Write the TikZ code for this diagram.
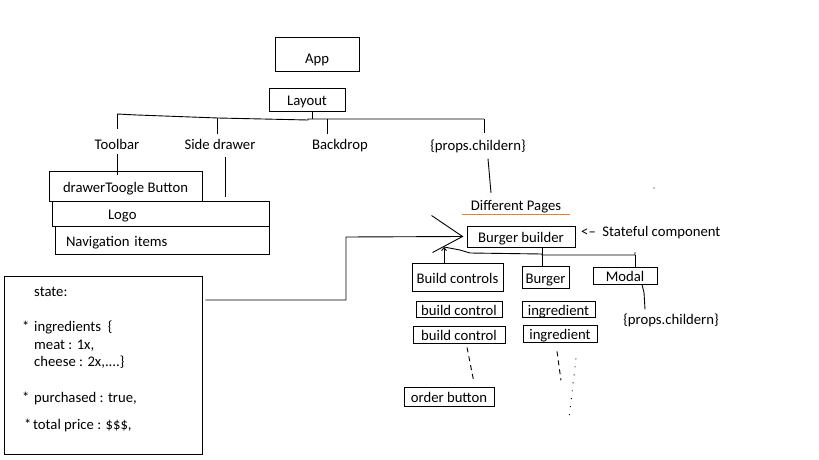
\documentclass[tikz,border=0pt]{standalone}
\usepackage{fontspec}
\setmainfont{Carlito}
\usetikzlibrary{arrows.meta}
\definecolor{penorange}{RGB}{237,125,49}

\begin{document}
\begin{tikzpicture}[
      x=1pt, y=-1pt,
      font=\fontsize{14.7}{17.5}\selectfont,
      txt/.style={inner sep=1pt, text height=12pt, text depth=0pt},
      bx/.style={txt, draw=black, line width=0.9pt},
      wire/.style={line width=0.9pt},
      dashwire/.style={wire, dash pattern=on 5pt off 4pt},
      dotwire/.style={wire, dash pattern=on 1pt off 7pt},
      tipline/.style={wire, -{Straight Barb[length=3pt, width=5pt]}}
    ]
    \useasboundingbox[fill=white] (0,0) rectangle (819,460);

    % top of the tree
    \node[bx, minimum width=84pt, minimum height=34pt] (app) at (317,54) {\raisebox{-3pt}{App}};
    \node[bx, minimum width=76pt, minimum height=23pt] (layout) at (307,99.5) {Layout};
    \node[txt] (toolbar)    at (117,143) {Toolbar};
    \node[txt] (sidedrawer) at (220,143) {Side drawer};
    \node[txt] (backdrop)   at (340,143) {Backdrop};
    \node[txt] (props)      at (478,144) {\{props.childern\}};

    % toolbar part
    \node[bx, minimum width=153pt, minimum height=30pt] (drawerbtn) at (125.5,186) {drawerToogle Button};
    \node[bx, minimum height=25pt, text width=215pt, align=left] (logo) at (160.5,213.5) {\hspace*{55pt}Logo};
    \node[bx, minimum height=28pt, text width=212pt, align=left] (nav) at (162,240) {\hspace*{10pt}Navigation items};

    % pages
    \node[txt, text height=10pt, text depth=4pt, minimum width=108pt, inner ysep=0pt] (pages) at (516,207) {Different Pages};
    \node[bx, minimum width=108pt, minimum height=21pt] (builder) at (521,236.5) {Burger builder};
    \node[txt, anchor=west] (stateful) at (580,230) {<--\ \ Stateful component};

    \node[bx, minimum width=91pt, minimum height=28pt] (controls) at (457.5,277) {Build controls};
    \node[bx, minimum width=47pt, minimum height=22pt] (burger)   at (545.5,277) {Burger};
    \node[bx, minimum width=64pt, minimum height=17pt] (modal)    at (625,275.5) {Modal};
    \node[txt] (props2) at (671,318) {\{props.childern\}};

    \node[bx, minimum width=86pt, minimum height=16pt] (bc1)   at (459,309)   {build control};
    \node[bx, minimum width=92pt, minimum height=17pt] (bc2)   at (459,334.5) {build control};
    \node[bx, minimum width=73pt, minimum height=16pt] (ing1)  at (558.5,309) {ingredient};
    \node[bx, minimum width=74pt, minimum height=17pt] (ing2)  at (560,333.5) {ingredient};
    \node[bx, minimum width=90pt, minimum height=19pt] (order) at (449,396.5) {order button};

    % state box
    \node[draw=black, line width=0.9pt, minimum width=198pt, minimum height=178pt] (state) at (103,365) {};
    \node[inner sep=0pt, anchor=north west, align=left] (statetext) at (22,287.5)
      {\hspace*{12pt}state:\\[17.5pt]
       \makebox[12pt][l]{*}ingredients\ \ \{\\
       \hspace*{12pt}meat : 1x,\\
       \hspace*{12pt}cheese : 2x,....\}\\[18.5pt]
       \makebox[12pt][l]{*}purchased : true,\\[9.5pt]
       \hspace*{2pt}\makebox[9pt][l]{*}total price : \$\$\$,};

    % connectors
    \coordinate (busL) at (117,114);
    \coordinate (busR) at (484,119);
    \draw[wire] ([xshift=5pt]layout.south) -- ++(0,8);
    \draw[wire] (busL) -- (137,115) -- (218,118) -- (308,120) -- (308,119) -- (busR);
    \draw[wire] (busL) -- ([yshift=6.5pt]toolbar.north);
    \draw[wire] ([xshift=-3pt,yshift=1.5pt]sidedrawer.north) -- ++(0,-16);
    \draw[wire] ([xshift=-13pt,yshift=1.5pt]backdrop.north) -- ++(0,-15);
    \draw[wire] (busR) -- ([xshift=6pt,yshift=3.5pt]props.north);

    \draw[wire] ([yshift=-4pt]toolbar.south) -- ([yshift=-4pt]drawerbtn.north -| toolbar);
    \draw[wire] ([xshift=5pt,yshift=-6.5pt]sidedrawer.south) -- ++(0,40);
    \draw[wire] ([xshift=10pt,yshift=-7.5pt]props.south) -- ([xshift=-25pt,yshift=7pt]pages.north);
    \draw[penorange, line width=1pt] (pages.south west) -- (pages.south east);

    \coordinate (tip) at ([xshift=-4pt]builder.west);
    \draw[wire] ([xshift=3pt,yshift=65pt]state.east) -| (346,237) -- (tip);
    \draw[wire] (tip) ++(-31,-21) -- (tip) -- ++(-30,16);

    \coordinate (kidL) at (444,247);
    \coordinate (kidR) at (635,255);
    \draw[wire] (kidL) -- (460,250) -- (470,253) -- (542,254) -- (542,255) -- (kidR) -- ++(0,-3);
    \draw[tipline] ([xshift=-13.5pt]controls.north) -- (kidL);
    \draw[wire] ([xshift=21pt]builder.south) -- ([xshift=-3.5pt]burger.north);
    \draw[wire] ([xshift=10pt]modal.north) -- (kidR);
    \draw[wire] ([xshift=17pt]modal.south) -- ++(2,8) -- ([xshift=-26pt,yshift=1.5pt]props2.north);

    \draw[dashwire] ([xshift=8pt,yshift=-4pt]bc2.south) -- ([xshift=25pt,yshift=4pt]order.north);
    \draw[dashwire] ([xshift=-3pt,yshift=-9pt]ing2.south) -- ++(4,29);
    \draw[dotwire] ([xshift=16pt,yshift=-16pt]ing2.south) -- ++(-7,60);
    \fill (654,188) circle (0.7pt);
  \end{tikzpicture}
\end{document}
